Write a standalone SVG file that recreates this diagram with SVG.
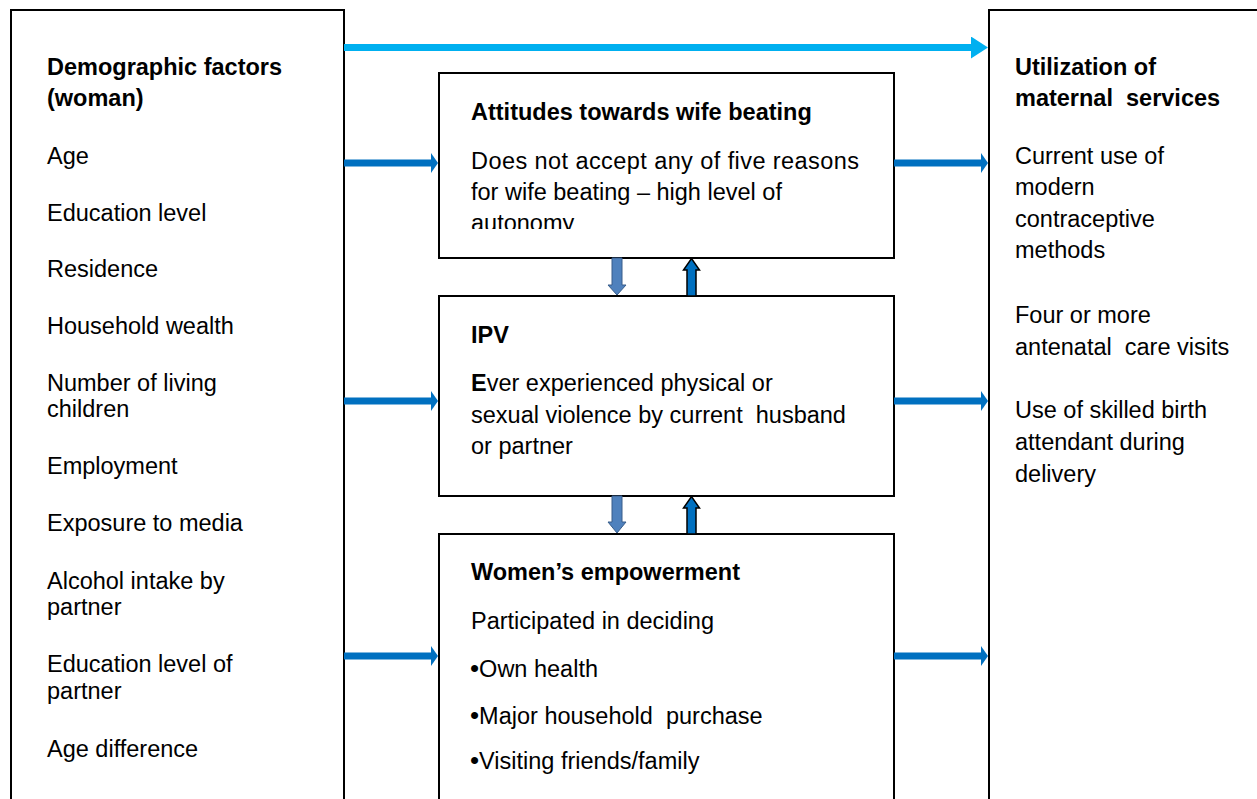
<svg xmlns="http://www.w3.org/2000/svg" width="1257" height="799" viewBox="0 0 1257 799">
<style>
  .box { fill: #ffffff; stroke: #000000; stroke-width: 2; }
  text { font-family: "Liberation Sans", Arial, sans-serif; font-size: 23.5px; fill: #000000; white-space: pre; }
  .b { font-weight: bold; }
  .bul { font-size: 26px; }
  .conn { stroke: #0070C0; stroke-width: 7; fill: none; }
  .top { stroke: #00B0F0; stroke-width: 7; fill: none; }
  .down { fill: #4F81BD; stroke: #385D8A; stroke-width: 1; }
  .up { fill: #0070C0; stroke: #000000; stroke-width: 1.5; }
</style>
<defs>
  <marker id="ah" markerUnits="userSpaceOnUse" markerWidth="8" markerHeight="20" viewBox="0 0 8 20" refX="1" refY="10" orient="auto">
    <path d="M0,0 L7,10 L0,20 Z" fill="#0070C0"/>
  </marker>
  <marker id="ahc" markerUnits="userSpaceOnUse" markerWidth="18" markerHeight="22" viewBox="0 0 18 22" refX="1" refY="11" orient="auto">
    <path d="M0,0 L17,11 L0,22 Z" fill="#00B0F0"/>
  </marker>
  <clipPath id="clipTop"><rect x="439" y="73" width="455" height="156"/></clipPath>
</defs>
<rect width="1257" height="799" fill="#ffffff"/>

<g id="demographic">
  <rect class="box" x="11" y="10" width="333" height="820"/>
  <text x="47" y="75" class="b">Demographic factors</text>
  <text x="47" y="106" class="b">(woman)</text>
  <text x="47" y="164">Age</text>
  <text x="47" y="221">Education level</text>
  <text x="47" y="277">Residence</text>
  <text x="47" y="334">Household wealth</text>
  <text x="47" y="391">Number of living</text>
  <text x="47" y="417">children</text>
  <text x="47" y="474">Employment</text>
  <text x="47" y="531">Exposure to media</text>
  <text x="47" y="589">Alcohol intake by</text>
  <text x="47" y="615">partner</text>
  <text x="47" y="672">Education level of</text>
  <text x="47" y="699">partner</text>
  <text x="47" y="757">Age difference</text>
</g>

<g id="utilization">
  <rect class="box" x="989" y="10" width="300" height="820"/>
  <text x="1015" y="75" class="b">Utilization of</text>
  <text x="1015" y="106" class="b">maternal  services</text>
  <text x="1015" y="164">Current use of</text>
  <text x="1015" y="195">modern</text>
  <text x="1015" y="227">contraceptive</text>
  <text x="1015" y="258">methods</text>
  <text x="1015" y="323">Four or more</text>
  <text x="1015" y="355">antenatal  care visits</text>
  <text x="1015" y="418">Use of skilled birth</text>
  <text x="1015" y="450">attendant during</text>
  <text x="1015" y="482">delivery</text>
</g>

<g id="attitudes">
  <rect class="box" x="439" y="73" width="455" height="185"/>
  <text x="471" y="120" class="b">Attitudes towards wife beating</text>
  <g clip-path="url(#clipTop)">
    <text x="471" y="169" textLength="388" lengthAdjust="spacing">Does not accept any of five reasons</text>
    <text x="471" y="200">for wife beating – high level of</text>
    <text x="471" y="231">autonomy</text>
  </g>
</g>

<g id="ipv">
  <rect class="box" x="439" y="296" width="455" height="200"/>
  <text x="471" y="343" class="b">IPV</text>
  <text x="471" y="391"><tspan class="b">E</tspan>ver experienced physical or</text>
  <text x="471" y="423">sexual violence by current  husband</text>
  <text x="471" y="454">or partner</text>
</g>

<g id="empowerment">
  <rect class="box" x="439" y="534" width="455" height="300"/>
  <text x="471" y="580" class="b">Women’s empowerment</text>
  <text x="471" y="629">Participated in deciding</text>
  <text x="470" y="677"><tspan class="bul">•</tspan>Own health</text>
  <text x="470" y="724"><tspan class="bul">•</tspan>Major household  purchase</text>
  <text x="470" y="769"><tspan class="bul">•</tspan>Visiting friends/family</text>
</g>

<g id="connectors">
  <line class="top" x1="344" y1="47.5" x2="972" y2="47.5" marker-end="url(#ahc)"/>
  <line class="conn" x1="344" y1="163" x2="432" y2="163" marker-end="url(#ah)"/>
  <line class="conn" x1="344" y1="401" x2="432" y2="401" marker-end="url(#ah)"/>
  <line class="conn" x1="344" y1="656" x2="432" y2="656" marker-end="url(#ah)"/>
  <line class="conn" x1="894" y1="163" x2="982" y2="163" marker-end="url(#ah)"/>
  <line class="conn" x1="894" y1="401" x2="982" y2="401" marker-end="url(#ah)"/>
  <line class="conn" x1="894" y1="656" x2="982" y2="656" marker-end="url(#ah)"/>
  <path class="down" d="M612,258 L622,258 L622,285 L626,285 L617,295 L608,285 L612,285 Z"/>
  <path class="up" d="M687,296 L696,296 L696,270 L699.5,270 L691.5,258.5 L683.5,270 L687,270 Z"/>
  <path class="down" d="M612,496 L622,496 L622,522 L626,522 L617,533 L608,522 L612,522 Z"/>
  <path class="up" d="M687,534 L696,534 L696,508 L699.5,508 L691.5,496.5 L683.5,508 L687,508 Z"/>
</g>
</svg>
